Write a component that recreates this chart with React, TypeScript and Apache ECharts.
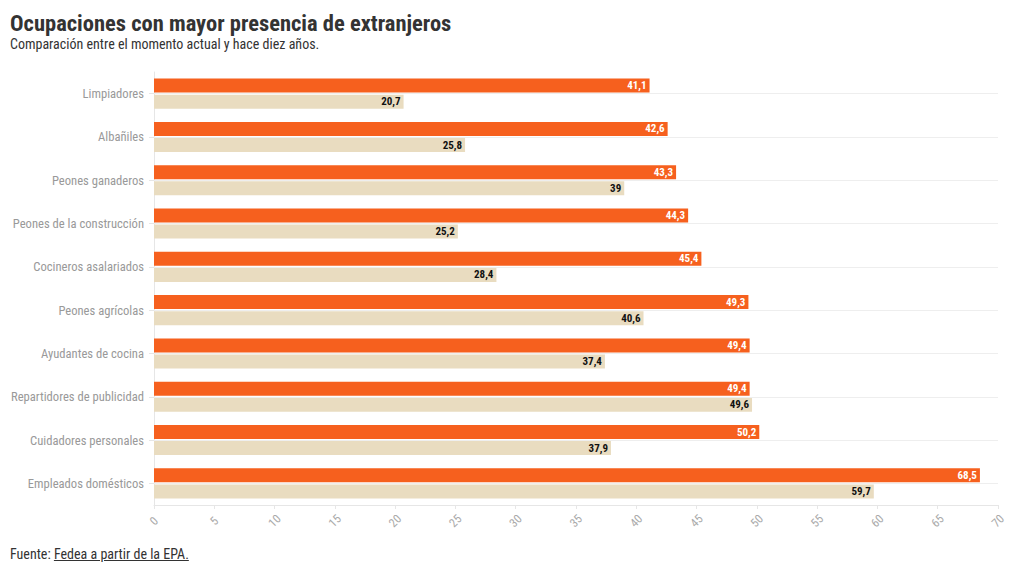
import React, { useEffect, useRef } from "react";
import * as echarts from "echarts";

const categories = [
  "Limpiadores",
  "Albañiles",
  "Peones ganaderos",
  "Peones de la construcción",
  "Cocineros asalariados",
  "Peones agrícolas",
  "Ayudantes de cocina",
  "Repartidores de publicidad",
  "Cuidadores personales",
  "Empleados domésticos",
];
const actual = [41.1, 42.6, 43.3, 44.3, 45.4, 49.3, 49.4, 49.4, 50.2, 68.5];
const haceDiez = [20.7, 25.8, 39, 25.2, 28.4, 40.6, 37.4, 49.6, 37.9, 59.7];

const FONT = "'Roboto Condensed', 'Liberation Sans Narrow', 'DejaVu Sans Condensed', 'Roboto', sans-serif";
const fmt = (v: number) => String(v).replace(".", ",");

export default function App() {
  const ref = useRef<HTMLDivElement>(null);
  useEffect(() => {
    document.body.style.margin = "0";
    const chart = echarts.init(ref.current!, null, { renderer: "svg" });
    chart.setOption({
      animation: false,
      textStyle: { fontFamily: FONT },
      title: {
        text: "Ocupaciones con mayor presencia de extranjeros",
        subtext: "Comparación entre el momento actual y hace diez años.",
        left: 10,
        top: 11,
        padding: 0,
        itemGap: 3,
        textStyle: { fontFamily: FONT, fontSize: 22.5, fontWeight: "bold", color: "#333" },
        subtextStyle: { fontFamily: FONT, fontSize: 14, color: "#333" },
      },
      grid: { left: 154, right: 22, top: 72, bottom: 70, containLabel: false },
      xAxis: {
        type: "value",
        min: 0,
        max: 70,
        interval: 5,
        axisLine: { show: true, lineStyle: { color: "#e6e6e6" } },
        axisTick: { show: true, length: 4, lineStyle: { color: "#e6e6e6" } },
        splitLine: { show: false },
        axisLabel: {
          rotate: 45,
          align: "center",
          verticalAlign: "middle",
          color: "#aaa",
          fontSize: 12,
          fontFamily: FONT,
          margin: 16,
        },
      },
      yAxis: {
        type: "category",
        data: categories,
        inverse: true,
        axisLine: { show: true, lineStyle: { color: "#e6e6e6" } },
        axisTick: { show: true, alignWithLabel: true, length: 5, lineStyle: { color: "#e6e6e6" } },
        axisLabel: { color: "#999", fontSize: 12.6, fontFamily: FONT, margin: 10 },
        splitLine: { show: false },
      },
      series: [
        {
          name: "grid",
          type: "line",
          data: [],
          silent: true,
          z: 0,
          markLine: {
            silent: true,
            symbol: "none",
            label: { show: false },
            lineStyle: { color: "#eeeeee", type: "solid", width: 1 },
            data: categories.map((c) => ({ yAxis: c })),
          },
        },
        {
          name: "Actual",
          type: "bar",
          data: actual,
          barWidth: 14,
          barGap: "15%",
          z: 3,
          itemStyle: { color: "#F6601E" },
          label: {
            show: true,
            position: "insideRight",
            distance: 3,
            color: "#fff",
            fontWeight: "bold",
            fontSize: 11,
            fontFamily: FONT,
            formatter: (p: any) => fmt(p.value),
          },
        },
        {
          name: "Hace diez años",
          type: "bar",
          data: haceDiez,
          barWidth: 14,
          z: 3,
          itemStyle: { color: "#E9DCC0" },
          label: {
            show: true,
            position: "insideRight",
            distance: 3,
            color: "#111",
            fontWeight: "bold",
            fontSize: 11,
            fontFamily: FONT,
            formatter: (p: any) => fmt(p.value),
          },
        },
      ],
    });
    return () => chart.dispose();
  }, []);
  return (
    <div style={{ position: "relative", width: 1020, height: 575 }}>
      <div ref={ref} style={{ width: 1020, height: 575 }} />
      <div
        style={{
          position: "absolute",
          left: 10,
          top: 546,
          fontFamily: FONT,
          fontSize: 14,
          color: "#333",
        }}
      >
        Fuente: <span style={{ textDecoration: "underline" }}>Fedea a partir de la EPA.</span>
      </div>
    </div>
  );
}
